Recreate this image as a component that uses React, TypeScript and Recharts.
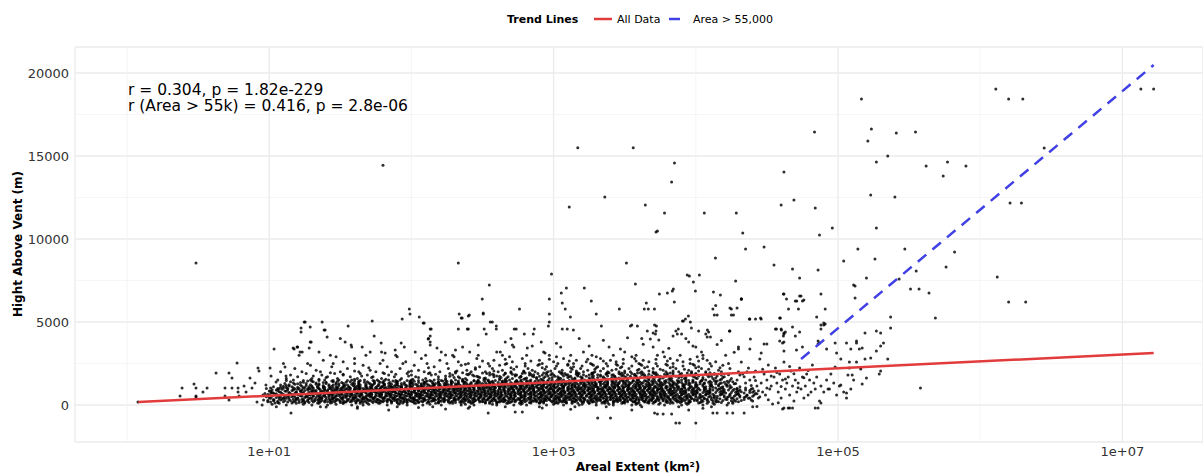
import React from 'react';
import { ComposedChart, Scatter, XAxis, YAxis, CartesianGrid, ReferenceLine } from 'recharts';

const FONT = '"DejaVu Sans", Verdana, sans-serif';

// ---------- axes ----------
const xMajorTicks = [10, 1000, 100000, 10000000];
const xMinorLines = [1, 100, 10000, 1000000];
const yMajorTicks = [0, 5000, 10000, 15000, 20000];
const yMinorLines = [2500, 7500, 12500, 17500];
const xDomain: [number, number] = [0.4306, 3.69e7];
const yDomain: [number, number] = [-2229, 21566];

// ---------- trend lines (end points) ----------
const trendAllData = [
  { area: 1.2, height: 180 },
  { area: 1.66e7, height: 3130 },
];
const trendLargeArea = [
  { area: 5.5e4, height: 2770 },
  { area: 1.66e7, height: 20480 },
];

const annotationLines = ['r = 0.304, p = 1.82e-229', 'r (Area > 55k) = 0.416, p = 2.8e-06'];
const legendTitle = 'Trend Lines';
const legendItems = ['All Data', 'Area > 55,000'];

// ---------- eruption points: [log10(area km²), height m] ----------
// dense band, read row by row (height, log10 areas)
const bandRows: [number, number[]][] = [
  [-100, [1.05,1.36,1.62,1.9,2.15,2.41,2.66,2.9,3.15,3.37,3.62,3.88,4.11,4.4]],
  [0, [0.95,1.12,1.3,1.41,1.58,1.66,1.83,1.97,2.08,2.21,2.35,2.44,2.6,2.72,2.81,2.95,3.07,3.18,3.3,3.42,3.55,3.61,3.78,3.9,4.05,4.22]],
  [50, [1.02,1.24,1.47,1.7,1.91,2.13,2.38,2.57,2.77,3.0,3.2,3.39,3.58,3.74,3.94,4.13]],
  [100, [1.07,1.19,1.35,1.52,1.64,1.77,1.92,2.03,2.17,2.29,2.42,2.55,2.67,2.78,2.9,3.03,3.13,3.25,3.36,3.48,3.59,3.7,3.82,3.95,4.08,4.26]],
  [150, [1.06,1.21,1.28,1.44,1.5,1.66,1.73,1.9,1.97,2.05,2.19,2.31,2.37,2.52,2.6,2.69,2.83,2.9,3.02,3.09,3.21,3.3,3.38,3.49,3.6,3.66,3.8,3.89,4.03,4.18]],
  [200, [0.99,1.1,1.17,1.25,1.36,1.41,1.53,1.57,1.64,1.75,1.8,1.86,1.95,2.01,2.08,2.12,2.23,2.28,2.4,2.44,2.5,2.61,2.65,2.73,2.8,2.88,2.93,3.04,3.08,3.15,3.24,3.28,3.36,3.45,3.52,3.57,3.67,3.71,3.83,3.9,3.96,4.09,4.16,4.3]],
  [250, [1.03,1.15,1.24,1.32,1.39,1.47,1.55,1.62,1.7,1.78,1.83,1.92,1.99,2.04,2.15,2.2,2.26,2.35,2.41,2.48,2.56,2.63,2.68,2.77,2.85,2.91,2.98,3.05,3.13,3.19,3.26,3.33,3.42,3.47,3.55,3.63,3.69,3.77,3.86,3.92,4.01,4.12,4.25]],
  [300, [0.96,1.08,1.19,1.27,1.34,1.43,1.49,1.58,1.63,1.71,1.77,1.85,1.89,1.97,2.03,2.1,2.17,2.24,2.3,2.38,2.45,2.53,2.59,2.66,2.74,2.79,2.87,2.94,3.0,3.07,3.16,3.22,3.3,3.37,3.44,3.5,3.58,3.65,3.72,3.79,3.87,3.95,4.04,4.14,4.27,4.39]],
  [350, [1.09,1.17,1.23,1.35,1.42,1.48,1.56,1.65,1.69,1.76,1.84,1.91,1.96,2.02,2.09,2.16,2.22,2.31,2.36,2.43,2.5,2.57,2.64,2.71,2.76,2.84,2.92,2.97,3.04,3.12,3.18,3.27,3.32,3.4,3.46,3.54,3.6,3.68,3.74,3.82,3.91,3.99,4.08,4.21]],
  [400, [1.01,1.12,1.2,1.3,1.37,1.45,1.51,1.6,1.67,1.73,1.8,1.87,1.93,2.0,2.06,2.13,2.19,2.27,2.33,2.39,2.47,2.54,2.61,2.69,2.75,2.82,2.89,2.95,3.02,3.09,3.14,3.21,3.29,3.35,3.42,3.49,3.56,3.62,3.7,3.76,3.84,3.9,3.97,4.06,4.15,4.26,4.37]],
  [450, [1.05,1.14,1.25,1.33,1.4,1.46,1.54,1.61,1.68,1.74,1.81,1.88,1.94,2.01,2.07,2.14,2.21,2.28,2.34,2.42,2.48,2.55,2.62,2.68,2.77,2.83,2.9,2.96,3.03,3.1,3.17,3.25,3.31,3.38,3.45,3.52,3.59,3.66,3.73,3.8,3.88,3.94,4.02,4.11,4.22,4.34]],
  [500, [0.98,1.07,1.16,1.26,1.36,1.44,1.52,1.59,1.66,1.72,1.79,1.86,1.92,1.99,2.05,2.12,2.2,2.26,2.35,2.41,2.49,2.56,2.62,2.7,2.78,2.84,2.91,2.98,3.04,3.11,3.19,3.26,3.33,3.4,3.47,3.53,3.61,3.67,3.75,3.81,3.89,3.96,4.04,4.13,4.23,4.35,4.45]],
  [550, [1.11,1.22,1.31,1.38,1.47,1.55,1.63,1.7,1.77,1.83,1.9,1.97,2.04,2.11,2.18,2.25,2.32,2.39,2.46,2.53,2.6,2.67,2.73,2.8,2.87,2.94,3.01,3.08,3.15,3.23,3.29,3.36,3.43,3.5,3.57,3.64,3.71,3.78,3.85,3.93,4.0,4.1,4.2,4.31]],
  [600, [1.0,1.13,1.21,1.29,1.39,1.45,1.53,1.6,1.69,1.75,1.82,1.88,1.95,2.03,2.08,2.15,2.23,2.29,2.37,2.44,2.51,2.58,2.64,2.72,2.79,2.86,2.92,2.99,3.06,3.13,3.2,3.27,3.34,3.41,3.48,3.55,3.62,3.69,3.76,3.83,3.9,3.98,4.07,4.17,4.28,4.41]],
  [650, [1.04,1.16,1.27,1.35,1.43,1.5,1.58,1.65,1.72,1.79,1.85,1.93,2.0,2.06,2.14,2.2,2.27,2.34,2.41,2.48,2.55,2.61,2.69,2.76,2.82,2.89,2.96,3.03,3.1,3.16,3.24,3.31,3.37,3.44,3.51,3.58,3.65,3.72,3.79,3.87,3.95,4.03,4.12,4.24]],
  [700, [0.97,1.09,1.18,1.28,1.36,1.42,1.51,1.57,1.64,1.71,1.78,1.84,1.91,1.98,2.04,2.11,2.17,2.24,2.31,2.38,2.45,2.52,2.59,2.66,2.73,2.8,2.86,2.93,3.0,3.07,3.14,3.21,3.28,3.35,3.42,3.49,3.56,3.63,3.7,3.77,3.84,3.92,4.0,4.09,4.19,4.3,4.42]],
  [750, [1.02,1.14,1.24,1.33,1.4,1.48,1.55,1.62,1.68,1.76,1.83,1.89,1.96,2.02,2.09,2.16,2.22,2.3,2.36,2.43,2.5,2.57,2.63,2.71,2.77,2.84,2.91,2.97,3.05,3.11,3.18,3.25,3.32,3.39,3.46,3.53,3.6,3.67,3.73,3.81,3.89,3.97,4.05,4.14,4.25,4.38]],
  [800, [1.07,1.19,1.3,1.37,1.46,1.53,1.59,1.66,1.74,1.8,1.87,1.94,2.0,2.07,2.14,2.2,2.27,2.34,2.41,2.47,2.54,2.61,2.68,2.75,2.81,2.88,2.95,3.02,3.08,3.15,3.22,3.29,3.36,3.43,3.5,3.57,3.64,3.71,3.78,3.86,3.93,4.01,4.1,4.2,4.32]],
  [850, [1.0,1.11,1.22,1.32,1.41,1.5,1.57,1.64,1.71,1.78,1.85,1.92,1.98,2.05,2.12,2.18,2.25,2.32,2.39,2.46,2.52,2.59,2.66,2.72,2.79,2.86,2.93,3.0,3.06,3.13,3.2,3.27,3.34,3.41,3.48,3.55,3.62,3.69,3.76,3.83,3.91,3.99,4.08,4.18,4.29,4.41]],
  [900, [1.05,1.17,1.27,1.36,1.44,1.51,1.6,1.67,1.73,1.81,1.88,1.95,2.02,2.08,2.15,2.22,2.29,2.35,2.42,2.49,2.56,2.63,2.69,2.76,2.83,2.9,2.97,3.03,3.1,3.17,3.24,3.31,3.38,3.45,3.52,3.59,3.66,3.73,3.8,3.87,3.95,4.03,4.12,4.23,4.35]],
  [950, [1.09,1.2,1.29,1.39,1.47,1.55,1.62,1.69,1.76,1.83,1.9,1.97,2.03,2.1,2.17,2.24,2.31,2.38,2.44,2.51,2.58,2.65,2.71,2.78,2.85,2.92,2.99,3.05,3.12,3.19,3.26,3.33,3.4,3.47,3.54,3.61,3.68,3.75,3.82,3.9,3.98,4.06,4.16,4.27]],
  [1000, [0.98,1.06,1.13,1.21,1.28,1.35,1.42,1.48,1.54,1.6,1.66,1.72,1.78,1.84,1.9,1.96,2.02,2.08,2.14,2.2,2.26,2.32,2.38,2.44,2.5,2.56,2.62,2.68,2.74,2.8,2.86,2.92,2.98,3.04,3.1,3.16,3.22,3.28,3.34,3.4,3.46,3.52,3.58,3.64,3.7,3.76,3.82,3.88,3.95,4.02,4.1,4.19,4.29,4.4]],
  [1050, [1.12,1.25,1.34,1.43,1.52,1.61,1.68,1.75,1.82,1.89,1.96,2.04,2.11,2.19,2.26,2.33,2.4,2.48,2.55,2.62,2.7,2.77,2.84,2.91,2.98,3.06,3.13,3.2,3.27,3.35,3.42,3.49,3.57,3.64,3.71,3.79,3.87,3.96,4.06,4.18]],
  [1100, [1.03,1.16,1.28,1.38,1.47,1.56,1.63,1.71,1.79,1.86,1.93,2.0,2.07,2.14,2.21,2.29,2.36,2.43,2.5,2.57,2.64,2.72,2.79,2.86,2.93,3.0,3.07,3.15,3.22,3.29,3.36,3.43,3.5,3.58,3.65,3.72,3.8,3.88,3.97,4.07,4.19,4.31]],
  [1150, [1.14,1.3,1.42,1.53,1.62,1.72,1.8,1.88,1.97,2.05,2.13,2.2,2.28,2.35,2.43,2.51,2.58,2.66,2.73,2.81,2.88,2.96,3.03,3.11,3.18,3.26,3.33,3.41,3.48,3.56,3.63,3.71,3.79,3.87,3.96,4.05,4.16]],
  [1200, [1.08,1.22,1.35,1.45,1.55,1.64,1.73,1.81,1.89,1.96,2.04,2.12,2.19,2.26,2.34,2.41,2.49,2.56,2.63,2.71,2.78,2.85,2.93,3.0,3.08,3.15,3.23,3.3,3.38,3.45,3.53,3.6,3.68,3.76,3.84,3.92,4.01,4.11,4.22]],
  [1250, [1.18,1.33,1.47,1.58,1.68,1.77,1.86,1.95,2.03,2.11,2.2,2.28,2.37,2.45,2.53,2.61,2.69,2.77,2.85,2.93,3.01,3.09,3.17,3.25,3.33,3.41,3.49,3.57,3.65,3.73,3.82,3.91,4.0,4.1,4.21]],
  [1300, [1.11,1.26,1.4,1.52,1.63,1.74,1.84,1.93,2.01,2.09,2.17,2.25,2.33,2.42,2.5,2.58,2.66,2.74,2.82,2.9,2.98,3.06,3.14,3.22,3.3,3.38,3.46,3.54,3.62,3.7,3.78,3.87,3.96,4.06,4.17,4.28]],
  [1350, [1.22,1.38,1.51,1.63,1.74,1.85,1.95,2.05,2.15,2.24,2.33,2.42,2.52,2.61,2.7,2.78,2.87,2.95,3.04,3.12,3.21,3.29,3.38,3.46,3.55,3.63,3.72,3.81,3.9,4.0,4.11,4.23]],
  [1400, [1.15,1.31,1.45,1.57,1.69,1.8,1.9,2.0,2.1,2.19,2.28,2.37,2.46,2.55,2.64,2.73,2.81,2.9,2.98,3.07,3.15,3.24,3.32,3.41,3.49,3.58,3.66,3.75,3.84,3.93,4.03,4.14,4.26]],
  [1450, [1.27,1.44,1.6,1.74,1.87,1.99,2.11,2.22,2.33,2.44,2.54,2.64,2.74,2.83,2.93,3.02,3.11,3.2,3.29,3.38,3.47,3.56,3.65,3.74,3.83,3.93,4.04,4.15]],
  [1500, [1.06,1.17,1.29,1.39,1.49,1.58,1.67,1.76,1.84,1.92,2.0,2.08,2.16,2.24,2.31,2.39,2.47,2.54,2.62,2.69,2.77,2.84,2.92,2.99,3.07,3.14,3.22,3.29,3.37,3.44,3.52,3.59,3.67,3.74,3.82,3.9,3.98,4.07,4.17,4.29]],
  [1550, [1.35,1.6,1.82,2.01,2.19,2.36,2.52,2.66,2.79,2.91,3.03,3.15,3.26,3.37,3.48,3.59,3.7,3.81,3.93,4.05,4.18]],
  [1600, [1.12,1.3,1.48,1.62,1.79,1.93,2.1,2.24,2.38,2.51,2.62,2.71,2.8,2.88,2.97,3.05,3.13,3.2,3.28,3.36,3.44,3.52,3.6,3.67,3.75,3.83,3.92,4.01,4.12,4.25]],
  [1700, [1.2,1.41,1.57,1.73,1.88,2.03,2.19,2.33,2.47,2.58,2.68,2.77,2.86,2.94,3.03,3.11,3.19,3.27,3.35,3.43,3.5,3.58,3.66,3.74,3.82,3.9,3.99,4.09,4.2]],
  [1800, [1.15,1.37,1.52,1.69,1.84,2.0,2.14,2.29,2.43,2.55,2.65,2.74,2.83,2.92,3.0,3.09,3.17,3.25,3.33,3.41,3.49,3.57,3.64,3.72,3.8,3.89,3.98,4.08,4.18,4.31]],
  [1900, [1.26,1.46,1.64,1.81,1.97,2.12,2.27,2.41,2.53,2.66,2.78,2.89,2.99,3.08,3.18,3.27,3.37,3.46,3.55,3.63,3.71,3.8,3.9,4.0,4.13]],
  [2000, [1.08,1.23,1.36,1.5,1.63,1.75,1.86,1.98,2.09,2.2,2.31,2.42,2.52,2.61,2.7,2.79,2.87,2.96,3.04,3.12,3.21,3.29,3.38,3.46,3.54,3.62,3.7,3.79,3.88,3.97,4.07,4.18,4.3]],
  [2100, [1.33,1.71,2.05,2.39,2.64,2.85,3.06,3.24,3.41,3.59,3.77,3.95,4.16]],
  [2200, [1.18,1.55,1.92,2.26,2.57,2.82,3.01,3.19,3.35,3.53,3.7,3.86,4.04,4.24]],
  [2300, [1.44,1.83,2.16,2.48,2.74,2.95,3.14,3.31,3.48,3.66,3.84,4.02]],
  [2400, [1.29,1.66,2.02,2.35,2.62,2.89,3.1,3.28,3.45,3.62,3.8,3.99,4.19]],
  [2500, [1.1,1.27,1.45,1.6,1.78,1.94,2.11,2.25,2.4,2.54,2.67,2.8,2.92,3.03,3.14,3.26,3.37,3.49,3.6,3.72,3.84,3.96,4.1,4.23]],
  [2600, [1.52,1.96,2.33,2.71,3.0,3.23,3.44,3.67,3.91,4.14]],
  [2700, [1.38,1.8,2.2,2.58,2.9,3.16,3.4,3.63,3.87,4.08]],
  [2800, [1.6,2.07,2.46,2.78,3.07,3.33,3.57,3.82,4.05]],
  [2900, [1.47,1.9,2.3,2.69,3.02,3.3,3.55,3.78,4.01]],
  [3000, [1.21,1.43,1.68,1.89,2.1,2.29,2.47,2.64,2.81,2.97,3.12,3.27,3.42,3.58,3.73,3.89,4.05,4.21]],
  [3200, [1.35,1.79,2.21,2.6,2.93,3.21,3.5,3.77,4.04]],
  [3500, [1.2,1.58,1.95,2.36,2.72,3.05,3.39,3.7,4.0,4.3]],
  [4000, [1.5,2.12,2.7,3.18,3.62,3.93]],
];

// further rows inside the dark core of the band
const bandRowsFill: [number, number[]][] = [
  [125, [1.04,1.16,1.25,1.34,1.43,1.52,1.61,1.69,1.78,1.86,1.94,2.02,2.11,2.19,2.27,2.35,2.43,2.52,2.6,2.68,2.76,2.84,2.93,3.01,3.09,3.17,3.25,3.34,3.42,3.5,3.58,3.67,3.75,3.84,3.93,4.02,4.12,4.23]],
  [175, [1.01,1.13,1.23,1.31,1.39,1.46,1.54,1.61,1.68,1.76,1.83,1.9,1.97,2.05,2.12,2.19,2.26,2.34,2.41,2.48,2.55,2.62,2.7,2.77,2.84,2.91,2.99,3.06,3.13,3.2,3.27,3.35,3.42,3.49,3.56,3.64,3.71,3.79,3.87,3.95,4.04,4.14,4.26]],
  [225, [1.06,1.18,1.27,1.35,1.43,1.5,1.58,1.65,1.72,1.79,1.86,1.93,2.0,2.07,2.14,2.21,2.29,2.36,2.43,2.5,2.57,2.64,2.71,2.78,2.86,2.93,3.0,3.07,3.14,3.21,3.28,3.36,3.43,3.5,3.57,3.64,3.72,3.8,3.88,3.96,4.05,4.15,4.28]],
  [275, [0.99,1.11,1.21,1.3,1.37,1.45,1.52,1.6,1.67,1.74,1.81,1.88,1.95,2.02,2.09,2.16,2.23,2.31,2.38,2.45,2.52,2.59,2.66,2.73,2.81,2.88,2.95,3.02,3.09,3.16,3.24,3.31,3.38,3.45,3.52,3.6,3.67,3.74,3.82,3.9,3.99,4.08,4.19,4.32]],
  [325, [1.03,1.14,1.24,1.32,1.4,1.47,1.55,1.62,1.69,1.76,1.83,1.9,1.98,2.05,2.12,2.19,2.26,2.33,2.4,2.47,2.54,2.62,2.69,2.76,2.83,2.9,2.97,3.04,3.11,3.19,3.26,3.33,3.4,3.47,3.54,3.62,3.69,3.77,3.85,3.93,4.01,4.11,4.22,4.34]],
  [375, [1.07,1.19,1.28,1.36,1.44,1.51,1.59,1.66,1.73,1.8,1.87,1.94,2.01,2.08,2.15,2.23,2.3,2.37,2.44,2.51,2.58,2.65,2.72,2.8,2.87,2.94,3.01,3.08,3.15,3.22,3.3,3.37,3.44,3.51,3.58,3.65,3.73,3.81,3.89,3.97,4.06,4.17,4.29]],
  [425, [1.0,1.1,1.2,1.29,1.37,1.45,1.52,1.59,1.66,1.74,1.81,1.88,1.95,2.02,2.09,2.16,2.23,2.3,2.37,2.44,2.51,2.58,2.65,2.72,2.79,2.86,2.93,3.0,3.07,3.14,3.21,3.28,3.35,3.42,3.49,3.56,3.63,3.7,3.78,3.86,3.94,4.03,4.13,4.25,4.38]],
  [475, [1.08,1.18,1.27,1.35,1.42,1.5,1.57,1.64,1.71,1.78,1.85,1.92,1.99,2.06,2.13,2.2,2.27,2.34,2.41,2.48,2.55,2.63,2.7,2.77,2.84,2.91,2.98,3.05,3.12,3.19,3.26,3.33,3.4,3.47,3.55,3.62,3.69,3.76,3.84,3.92,4.0,4.09,4.2,4.31]],
  [525, [1.02,1.13,1.23,1.31,1.39,1.47,1.54,1.61,1.68,1.75,1.82,1.89,1.96,2.03,2.1,2.17,2.24,2.31,2.38,2.45,2.52,2.59,2.66,2.73,2.8,2.88,2.95,3.02,3.09,3.16,3.23,3.3,3.37,3.44,3.51,3.58,3.65,3.73,3.8,3.88,3.96,4.05,4.15,4.27,4.4]],
  [575, [1.06,1.17,1.26,1.34,1.42,1.49,1.57,1.64,1.71,1.78,1.85,1.92,1.99,2.06,2.13,2.2,2.28,2.35,2.42,2.49,2.56,2.63,2.7,2.77,2.84,2.92,2.99,3.06,3.13,3.2,3.27,3.34,3.41,3.48,3.56,3.63,3.7,3.78,3.86,3.94,4.03,4.13,4.24,4.36]],
  [625, [0.99,1.1,1.2,1.28,1.36,1.44,1.51,1.58,1.65,1.72,1.79,1.86,1.93,2.0,2.07,2.14,2.21,2.28,2.35,2.42,2.49,2.56,2.63,2.7,2.77,2.84,2.91,2.98,3.05,3.12,3.19,3.26,3.33,3.4,3.47,3.54,3.61,3.68,3.75,3.82,3.9,3.98,4.07,4.18,4.3]],
  [675, [1.05,1.15,1.24,1.33,1.41,1.48,1.55,1.62,1.7,1.77,1.84,1.91,1.98,2.05,2.12,2.19,2.26,2.33,2.4,2.47,2.54,2.61,2.68,2.75,2.83,2.9,2.97,3.04,3.11,3.18,3.25,3.32,3.39,3.46,3.53,3.61,3.68,3.75,3.83,3.91,3.99,4.08,4.18,4.29,4.43]],
  [725, [1.03,1.14,1.23,1.31,1.39,1.46,1.54,1.61,1.68,1.75,1.82,1.89,1.96,2.03,2.1,2.17,2.24,2.31,2.38,2.45,2.52,2.59,2.66,2.73,2.8,2.87,2.94,3.01,3.08,3.15,3.22,3.29,3.36,3.43,3.5,3.57,3.64,3.71,3.78,3.85,3.93,4.01,4.1,4.21,4.34]],
  [775, [1.08,1.19,1.28,1.36,1.44,1.51,1.58,1.65,1.72,1.79,1.86,1.93,2.0,2.07,2.14,2.21,2.28,2.35,2.42,2.49,2.56,2.63,2.7,2.77,2.84,2.91,2.98,3.05,3.12,3.19,3.26,3.33,3.4,3.47,3.54,3.61,3.68,3.75,3.82,3.9,3.98,4.07,4.17,4.28,4.4]],
  [825, [1.01,1.12,1.22,1.3,1.38,1.45,1.52,1.6,1.67,1.74,1.81,1.88,1.95,2.02,2.09,2.16,2.23,2.3,2.37,2.44,2.51,2.58,2.65,2.72,2.79,2.86,2.93,3.0,3.07,3.14,3.21,3.28,3.35,3.42,3.49,3.56,3.63,3.7,3.77,3.84,3.92,4.0,4.09,4.19,4.3]],
  [875, [1.06,1.16,1.25,1.33,1.41,1.48,1.56,1.63,1.7,1.77,1.84,1.91,1.98,2.05,2.12,2.19,2.26,2.33,2.4,2.47,2.54,2.61,2.68,2.75,2.82,2.89,2.96,3.03,3.1,3.17,3.24,3.31,3.38,3.45,3.52,3.59,3.66,3.73,3.81,3.89,3.97,4.06,4.15,4.26,4.38]],
  [925, [1.02,1.13,1.23,1.31,1.39,1.46,1.53,1.6,1.67,1.74,1.81,1.88,1.95,2.02,2.09,2.16,2.23,2.3,2.37,2.44,2.51,2.58,2.65,2.72,2.79,2.86,2.93,3.0,3.07,3.14,3.21,3.28,3.35,3.42,3.49,3.56,3.63,3.7,3.77,3.85,3.93,4.01,4.1,4.2,4.31]],
  [975, [1.07,1.18,1.27,1.35,1.43,1.5,1.57,1.64,1.71,1.78,1.85,1.92,1.99,2.06,2.13,2.2,2.27,2.34,2.41,2.48,2.55,2.62,2.69,2.76,2.83,2.9,2.97,3.04,3.11,3.18,3.25,3.32,3.39,3.46,3.53,3.6,3.67,3.74,3.82,3.9,3.98,4.07,4.17,4.29]],
  [1025, [1.01,1.1,1.17,1.24,1.31,1.38,1.45,1.51,1.57,1.63,1.69,1.75,1.81,1.87,1.93,1.99,2.05,2.11,2.17,2.23,2.29,2.35,2.41,2.47,2.53,2.59,2.65,2.71,2.77,2.83,2.89,2.95,3.01,3.07,3.13,3.19,3.25,3.31,3.37,3.43,3.49,3.55,3.61,3.67,3.73,3.79,3.85,3.92,3.99,4.06,4.14,4.24,4.35]],
  [1075, [1.08,1.2,1.3,1.39,1.48,1.56,1.64,1.72,1.79,1.86,1.93,2.0,2.08,2.15,2.22,2.3,2.37,2.44,2.52,2.59,2.66,2.74,2.81,2.88,2.95,3.02,3.1,3.17,3.24,3.31,3.39,3.46,3.53,3.61,3.68,3.76,3.84,3.92,4.01,4.12,4.25]],
  [1125, [1.1,1.23,1.34,1.44,1.52,1.6,1.68,1.76,1.84,1.91,1.99,2.07,2.15,2.23,2.31,2.39,2.47,2.54,2.62,2.7,2.77,2.85,2.92,3.0,3.07,3.15,3.22,3.3,3.37,3.45,3.52,3.6,3.67,3.75,3.83,3.91,4.0,4.1,4.22]],
  [1175, [1.12,1.26,1.38,1.49,1.59,1.68,1.77,1.85,1.93,2.01,2.09,2.16,2.24,2.31,2.39,2.46,2.53,2.61,2.68,2.76,2.83,2.91,2.98,3.06,3.13,3.21,3.28,3.36,3.43,3.51,3.58,3.66,3.74,3.82,3.91,4.0,4.11,4.24]],
  [1225, [1.14,1.29,1.42,1.53,1.63,1.72,1.81,1.9,1.99,2.07,2.16,2.24,2.32,2.41,2.49,2.57,2.65,2.73,2.81,2.89,2.97,3.05,3.13,3.21,3.29,3.37,3.45,3.53,3.61,3.69,3.77,3.86,3.95,4.05,4.16]],
  [1275, [1.2,1.35,1.49,1.6,1.71,1.81,1.9,1.99,2.07,2.15,2.23,2.31,2.39,2.47,2.55,2.63,2.71,2.79,2.87,2.95,3.03,3.11,3.19,3.27,3.35,3.43,3.51,3.59,3.67,3.75,3.84,3.93,4.03,4.14,4.27]],
  [1325, [1.17,1.33,1.47,1.59,1.7,1.8,1.9,2.0,2.09,2.19,2.28,2.37,2.46,2.55,2.64,2.73,2.82,2.91,2.99,3.08,3.16,3.25,3.33,3.42,3.5,3.59,3.67,3.76,3.85,3.95,4.06,4.18]],
  [1375, [1.24,1.4,1.54,1.67,1.78,1.89,1.99,2.09,2.19,2.29,2.38,2.48,2.57,2.66,2.75,2.84,2.93,3.01,3.1,3.19,3.27,3.36,3.44,3.53,3.61,3.7,3.79,3.88,3.98,4.09,4.2]],
  [1425, [1.3,1.48,1.63,1.77,1.9,2.02,2.14,2.25,2.36,2.47,2.57,2.67,2.77,2.87,2.96,3.06,3.15,3.24,3.33,3.42,3.51,3.6,3.69,3.78,3.88,3.98,4.1,4.22]],
  [1475, [1.12,1.24,1.35,1.45,1.55,1.64,1.73,1.81,1.89,1.97,2.05,2.13,2.21,2.28,2.36,2.44,2.51,2.59,2.66,2.74,2.81,2.89,2.96,3.04,3.11,3.19,3.26,3.34,3.41,3.49,3.56,3.64,3.71,3.79,3.87,3.95,4.04,4.13,4.24]],
  [1625, [2.34,2.52,2.67,2.81,2.93,3.04,3.15,3.25,3.35,3.46,3.56,3.66,3.77,3.88,4.0,4.14]],
  [1650, [1.4,1.72,2.05,2.3,2.48,2.63,2.76,2.88,2.99,3.1,3.2,3.31,3.41,3.51,3.61,3.71,3.82,3.93,4.05,4.19]],
  [1725, [2.27,2.46,2.62,2.77,2.9,3.01,3.12,3.23,3.33,3.43,3.54,3.64,3.75,3.86,3.98,4.11]],
  [1750, [1.31,1.65,1.98,2.24,2.44,2.6,2.73,2.85,2.96,3.07,3.17,3.28,3.38,3.48,3.58,3.69,3.79,3.9,4.02,4.15]],
  [1825, [2.4,2.58,2.73,2.86,2.98,3.1,3.21,3.31,3.42,3.52,3.62,3.73,3.84,3.96,4.09,4.23]],
  [1850, [1.52,1.89,2.17,2.39,2.57,2.71,2.84,2.95,3.06,3.16,3.27,3.37,3.47,3.57,3.67,3.78,3.89,4.0,4.13]],
  [1925, [2.31,2.5,2.66,2.8,2.93,3.05,3.16,3.27,3.38,3.48,3.59,3.7,3.82,3.94,4.07]],
  [1950, [1.43,1.8,2.13,2.36,2.55,2.7,2.83,2.95,3.06,3.17,3.28,3.39,3.5,3.61,3.72,3.84,3.97,4.1]],
  [2050, [1.6,2.0,2.32,2.58,2.79,2.98,3.16,3.33,3.5,3.67,3.84,4.02]],
  [2150, [2.45,2.72,2.94,3.13,3.29,3.44,3.6,3.75,3.92,4.09]],
  [2250, [1.7,2.12,2.45,2.7,2.92,3.12,3.3,3.47,3.64,3.82,4.0,4.17]],
  [2350, [2.55,2.8,3.02,3.2,3.38,3.55,3.73,3.91,4.11]],
  [2450, [2.38,2.66,2.9,3.1,3.27,3.44,3.61,3.79,3.98]],
  [2650, [2.5,2.84,3.11,3.35,3.58,3.8,4.02]],
  [2750, [2.66,2.97,3.24,3.49,3.72,3.96]],
];

// small areas, left of the band
const smallAreaPoints: [number, number][] = [
  [0.077,180],[0.373,540],[0.387,1020],[0.471,1270],[0.485,1020],[0.485,540],[0.485,480],
  [0.534,780],[0.563,1020],[0.626,1930],[0.689,1020],[0.689,540],[0.717,300],[0.717,1930],
  [0.738,1630],[0.738,1020],[0.774,2530],[0.781,1020],[0.781,780],[0.788,540],[0.823,1145],
  [0.837,780],[0.865,1630],[0.879,1020],[0.9,1330],[0.914,180],[0.921,2230],[0.928,2050],
  [0.956,600],[0.977,1200],[1.006,2230],[1.013,720],[1.013,1750],[1.034,3370],[1.034,300],
  [1.048,1390],[1.111,2290],[1.104,420],[1.118,1750],[1.153,-480],
];

// values below zero
const negativePoints: [number, number][] = [
  [1.84,-300],[2.24,-240],[2.54,-480],[2.73,-420],[2.78,-420],[3.31,-780],[3.4,-780],
  [3.71,-480],[3.73,-540],[3.77,-540],[3.83,-540],[3.86,-1080],[3.885,-1080],[4.0,-1080],
  [4.12,-480],[4.15,-480],[4.22,-480],[4.26,-480],[4.34,-480],[4.61,-240],[4.65,-180],
  [4.68,-180],[1.4,-120],[1.62,-200],[2.05,-150],[2.4,-200],[2.92,-180],[3.12,-250],
  [3.55,-300],[3.95,-300],[4.05,-200],
];

// scattered points above the band (roughly 3000-6500 m)
const upperScatter: [number, number][] = [
  [1.985,5780],[1.99,5480],[2.76,5780],[2.97,5480],[2.505,5480],[2.336,5480],[2.35,5240],
  [2.407,5420],[1.935,5180],[2.055,5300],[2.083,4940],[1.724,5060],[1.372,5000],[1.253,5000],
  [1.224,4640],[1.224,4400],[1.288,4700],[1.555,4760],[1.393,4520],[1.407,4100],[1.738,4160],
  [1.928,3735],[2.132,4580],[2.132,4160],[2.132,3800],[2.132,3615],[2.33,4580],[2.393,4580],
  [2.512,4580],[2.526,4280],[2.555,5000],[2.597,4760],[2.597,4580],[2.723,4580],[2.737,4580],
  [2.794,4280],[2.857,4280],[2.864,4580],[2.963,4760],[2.97,5000],[1.175,3370],[1.196,3500],
  [1.217,3190],[1.232,3190],[1.288,3800],[1.534,3800],[1.576,3615],[1.654,3500],[1.168,3430],
  [1.246,5000],[1.295,3800],[1.281,3430],[1.386,4520],[1.787,3735],[2.118,3975],[2.09,4940],
  [1.71,3190],[1.815,3130],[1.886,3310],[2.027,3190],[2.18,3430],[2.24,3010],[2.31,3310],
  [2.41,3190],[2.47,3615],[2.625,3190],[2.66,3800],[2.71,3615],[2.815,3430],[2.913,3800],[2.94,3130],
  [2.498,6390],[2.97,6390],[3.054,6750],[3.09,7050],[3.216,7050],[3.265,6270],[3.061,6145],
  [3.082,5780],[3.462,5780],[3.652,6145],[3.666,5780],[3.638,5780],[3.709,5780],[3.744,6690],
  [3.8,6750],[3.842,6990],[3.849,6200],[3.997,6870],[4.124,6810],[4.173,6630],[4.25,5780],
  [4.265,5420],[4.321,6390],[4.377,5180],[4.455,5240],[4.595,5240],[4.616,6690],[4.638,6390],
  [4.652,5780],[4.722,5780],[4.7,4160],[4.708,3310],[2.505,5540],[2.569,5000],[2.357,5240],
  [2.4,5360],[2.139,4580],[2.4,4580],[3.061,4580],[3.096,4580],[3.139,4520],[3.336,4760],
  [3.54,4760],[3.589,4760],[3.659,4460],[3.68,3975],[3.723,4760],[3.716,4280],[3.877,4580],
  [3.906,5060],[3.927,5180],[3.969,4640],[4.082,4520],[4.103,4100],[4.236,4460],[4.384,3975],
  [4.567,4580],[4.602,4520],[4.616,4160],[4.68,4700],[3.835,6870],[3.913,5060],[3.948,5360],
  [3.962,5000],[4.12,5780],[4.13,5420],[4.15,5420],[4.14,6000],[4.25,5420],[4.24,5840],
  [4.29,5840],[4.42,5180],[3.118,5300],[3.3,5480],[3.55,4820],[3.71,4820],[3.7,4340],
  [3.72,4460],[3.84,4160],[3.86,4460],[3.87,4280],[3.9,4280],[4.02,4460],[4.07,4280],
  [4.09,4400],[4.08,4100],[4.24,4460],[4.62,4340],[4.74,6570],[4.76,6330],[4.7,6260],
  [4.59,5240],[4.85,5300],[4.91,5780],[4.88,4820],[4.9,4940],[4.62,3800],[4.5,3670],
  [4.75,3500],[4.86,3670],[4.32,6390],[4.38,5180],[4.46,5180],[4.56,4580],[4.62,4280],
  [4.48,3670],[4.38,3370],[4.3,3370],[4.59,3860],[4.61,3740],[4.46,3130],[4.62,3250],
  [3.25,3560],[3.47,3380],[3.63,3660],[3.81,3420],[3.98,3550],[4.15,3640],[4.27,3180],
  [3.35,3900],[3.52,4050],[3.74,3920],[3.95,3790],[4.18,3880],[2.85,3560],[3.02,3720],
];

// large eruptions, heights above ~6500 m
const highPoints: [number, number][] = [
  [0.485,8550],[1.8,14450],[2.33,8550],[2.985,7890],[2.548,7230],[3.512,8550],[3.575,7290],
  [3.17,15500],[3.56,15500],[3.85,14580],[3.83,13430],[3.36,12530],[3.11,11930],[3.645,12050],
  [3.78,11570],[4.06,11570],[4.285,11570],[3.72,10420],[3.73,10480],[4.33,10360],[4.35,9400],
  [4.48,9520],[4.62,14040],[4.6,12050],[4.69,12350],[4.835,16450],[4.84,11870],[4.87,10240],
  [4.96,10660],[5.165,18430],[5.235,16630],[5.21,15900],[5.41,16390],[5.545,16450],[5.35,15000],
  [5.27,14640],[5.62,14400],[5.77,14640],[5.74,13800],[5.9,14400],[5.23,12650],[5.4,12530],
  [5.27,10660],[6.11,19040],[6.2,18430],[6.3,18430],[6.45,15480],[6.21,12170],[6.29,12170],
  [7.13,19040],[7.22,19040],[5.14,9400],[5.47,9400],[5.26,8800],[5.04,8670],[5.82,9220],
  [5.76,8310],[5.55,8070],[5.43,7590],[6.12,7710],[6.2,6200],[6.32,6200],[5.51,6990],
  [5.57,6990],[5.64,6750],[5.685,5240],[4.68,8190],[4.86,8130],[4.73,7650],[5.2,7650],
  [5.11,7230],[5.12,7170],[5.12,6450],[4.62,6690],[4.88,6690],[4.71,6260],[4.75,6260],
  [4.73,6570],[4.28,7470],[3.94,7830],[3.955,7770],[3.983,7410],[4.025,7830],[4.138,8860],
  [4.55,8430],[4.32,6390],
];

// right side of the cloud (10^4.3 - 10^5.6 km²)
const rightCluster: [number, number][] = [
  [4.32,2590],[4.33,1870],[4.35,1330],[4.36,600],[4.37,2230],[4.38,1510],[4.39,965],[4.4,240],
  [4.41,1690],[4.42,2050],[4.43,1145],[4.44,420],[4.45,2770],[4.46,1330],[4.47,783],[4.48,1870],
  [4.49,600],[4.5,1510],[4.51,2410],[4.52,965],[4.53,1145],[4.54,60],[4.55,1690],[4.56,2230],
  [4.57,1330],[4.58,783],[4.59,1870],[4.6,420],[4.61,1510],[4.62,2590],[4.63,965],[4.64,1330],
  [4.65,1690],[4.66,600],[4.67,2050],[4.68,1145],[4.69,240],[4.7,1510],[4.71,783],[4.72,1330],
  [4.73,2230],[4.74,965],[4.75,1690],[4.76,420],[4.77,1145],[4.78,1870],[4.79,600],[4.8,1510],
  [4.81,783],[4.82,2410],[4.83,1330],[4.84,965],[4.85,1690],[4.86,-180],[4.87,240],[4.88,1145],
  [4.9,783],[4.92,1510],[4.94,965],[4.95,1870],[4.97,1330],[4.99,600],[5.01,1145],[5.02,2770],
  [5.04,783],[5.06,420],[5.08,2230],[5.09,965],[5.11,1510],[5.13,2590],[5.16,2230],[5.17,1270],
  [5.19,2770],[5.2,1630],[5.23,2830],[5.29,1870],[5.3,2050],[5.35,2770],[5.58,1020],
  [4.86,3860],[4.87,3740],[4.92,3370],[4.98,3740],[4.99,3130],[5.06,3740],[5.13,3860],[5.13,3740],
  [5.09,3370],[5.15,3370],[5.17,3430],[5.27,3250],[5.3,3550],[5.32,3740],[5.08,2590],[5.16,2170],
  [5.07,1810],[5.1,1810],[5.06,720],[5.02,1200],[4.98,2290],[4.93,960],[4.88,120],[4.84,-180],
  [4.62,-180],[4.66,-180],[5.37,5300],[5.37,4640],[5.19,4340],[5.27,4460],[5.3,4340],[4.9,4820],
  [4.91,4880],[4.88,4580],[4.73,4400],[4.63,4400],[4.6,4580],[4.34,1700],[4.36,2010],[4.39,1180],
  [4.42,1480],[4.44,860],[4.47,2150],[4.5,1020],[4.53,1750],[4.57,1960],[4.6,1120],[4.63,1560],
  [4.66,2320],[4.69,1880],[4.72,1040],[4.76,1640],[4.79,2080],[4.43,-90],[4.51,320],[4.58,140],
];

const allPoints = [
  ...bandRows.flatMap(([h, las]) => las.map((la) => [la, h] as [number, number])),
  ...bandRowsFill.flatMap(([h, las]) => las.map((la) => [la, h] as [number, number])),
  ...smallAreaPoints,
  ...negativePoints,
  ...upperScatter,
  ...highPoints,
  ...rightCluster,
].map(([la, h]) => ({ area: Math.pow(10, la), height: h }));

const fmtExp = (v: number) => {
  const s = v.toExponential(0);
  const [m, e] = s.split('e');
  const sign = e[0] === '-' ? '-' : '+';
  const digits = e.replace(/[+-]/, '').padStart(2, '0');
  return `${m}e${sign}${digits}`;
};

const Dot = (p: any) => <circle cx={p.cx} cy={p.cy} r={1.5} fill="#000" fillOpacity={0.82} />;
const NoDot = () => <g />;

const RED = '#E23B3B';
const BLUE = '#4040E4';

export default function App() {
  return (
    <div style={{ position: 'fixed', left: 0, top: 0, width: 1203, height: 475, background: '#fff' }}>
      <ComposedChart width={1203} height={475} margin={{ top: 47, right: 0, bottom: 0, left: 0 }}>
        <CartesianGrid stroke="#ebebeb" strokeWidth={1.3} />
        {xMinorLines.map((v) => (
          <ReferenceLine key={'xm' + v} x={v} stroke="#f0f0f0" strokeWidth={0.7} />
        ))}
        {yMinorLines.map((v) => (
          <ReferenceLine key={'ym' + v} y={v} stroke="#f0f0f0" strokeWidth={0.7} />
        ))}
        <XAxis
          dataKey="area"
          type="number"
          scale="log"
          domain={xDomain}
          allowDataOverflow
          ticks={xMajorTicks}
          tickFormatter={fmtExp}
          axisLine={false}
          tickLine={false}
          tickSize={0}
          tickMargin={5}
          height={33}
          tick={{ fill: '#333', fontSize: 13, fontFamily: FONT }}
        />
        <YAxis
          dataKey="height"
          type="number"
          domain={yDomain}
          allowDataOverflow
          ticks={yMajorTicks}
          axisLine={false}
          tickLine={false}
          tickSize={0}
          tickMargin={6}
          width={75}
          tick={{ fill: '#333', fontSize: 13, fontFamily: FONT }}
        />
        <Scatter data={allPoints} shape={Dot} isAnimationActive={false} />
        <Scatter
          data={trendAllData}
          fill={RED}
          shape={NoDot}
          line={{ stroke: RED, strokeWidth: 2.5 }}
          isAnimationActive={false}
        />
        <Scatter
          data={trendLargeArea}
          fill={BLUE}
          shape={NoDot}
          line={{ stroke: BLUE, strokeWidth: 2.5, strokeDasharray: '11 8' }}
          isAnimationActive={false}
        />
      </ComposedChart>
      <svg
        width={1203}
        height={475}
        style={{ position: 'absolute', left: 0, top: 0, pointerEvents: 'none' }}
        fontFamily={FONT}
      >
        <text x={507} y={23} fontSize={11} fontWeight="bold" fill="#000">{legendTitle}</text>
        <line x1={594} y1={19} x2={612} y2={19} stroke={RED} strokeWidth={2.5} />
        <text x={617} y={23} fontSize={11} fill="#000">{legendItems[0]}</text>
        <line x1={669} y1={19} x2={686} y2={19} stroke={BLUE} strokeWidth={2.5} strokeDasharray="11 8" />
        <text x={693} y={23} fontSize={11} fill="#000">{legendItems[1]}</text>
        <text x={128} y={95} fontSize={15.5} fill="#000">{annotationLines[0]}</text>
        <text x={128} y={111} fontSize={15.5} fill="#000">{annotationLines[1]}</text>
        <text x={638} y={471} fontSize={12} fontWeight="bold" textAnchor="middle" fill="#000">
          Areal Extent (km²)
        </text>
        <text
          x={22}
          y={244}
          fontSize={12}
          fontWeight="bold"
          textAnchor="middle"
          fill="#000"
          transform="rotate(-90 22 244)"
        >
          Hight Above Vent (m)
        </text>
      </svg>
    </div>
  );
}
